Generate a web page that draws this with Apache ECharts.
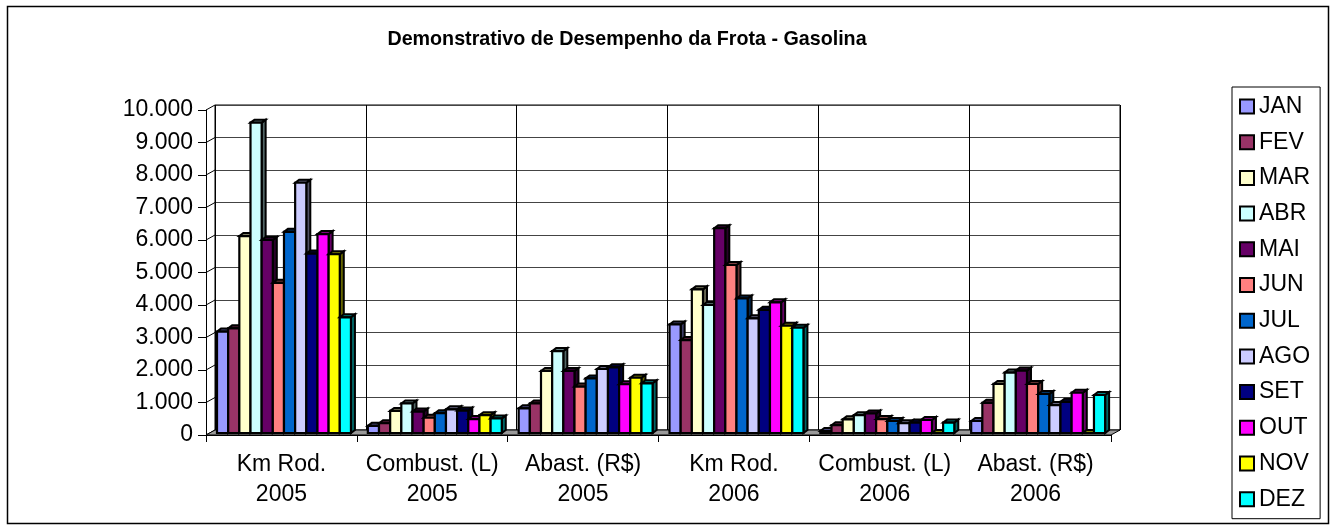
<!DOCTYPE html>
<html><head><meta charset="utf-8">
<script src="https://cdn.jsdelivr.net/npm/echarts@6/dist/echarts.min.js"></script>
<style>html,body{margin:0;padding:0;background:#fff}#c{width:1336px;height:531px}</style>
</head><body><div id="c"></div>
<script>
const titleText = 'Demonstrativo de Desempenho da Frota - Gasolina';
const categories = ['Km Rod.\n2005', 'Combust. (L)\n2005', 'Abast. (R$)\n2005', 'Km Rod.\n2006', 'Combust. (L)\n2006', 'Abast. (R$)\n2006'];
const months = ['JAN', 'FEV', 'MAR', 'ABR', 'MAI', 'JUN', 'JUL', 'AGO', 'SET', 'OUT', 'NOV', 'DEZ'];
const JAN = [3120, 220, 760, 3340, 60, 370];
const FEV = [3220, 300, 910, 2860, 240, 930];
const MAR = [6060, 680, 1910, 4420, 420, 1510];
const ABR = [9550, 910, 2520, 3940, 550, 1860];
const MAI = [5940, 660, 1910, 6300, 600, 1920];
const JUN = [4620, 470, 1430, 5170, 430, 1510];
const JUL = [6190, 610, 1680, 4140, 370, 1200];
const AGO = [7700, 730, 1970, 3530, 300, 860];
const SET = [5520, 690, 2020, 3790, 320, 960];
const OUT = [6120, 430, 1500, 4020, 400, 1240];
const NOV = [5500, 550, 1700, 3300, 0, 0];
const DEZ = [3560, 450, 1530, 3240, 320, 1170];
const seriesValues = [JAN, FEV, MAR, ABR, MAI, JUN, JUL, AGO, SET, OUT, NOV, DEZ];
const yTicks = [0, 1000, 2000, 3000, 4000, 5000, 6000, 7000, 8000, 9000, 10000];
const colors = ['#9999FF', '#993366', '#FFFFCC', '#CCFFFF', '#660066', '#FF8080', '#0066CC', '#CCCCFF', '#000080', '#FF00FF', '#FFFF00', '#00FFFF'];

const FONT = 'Liberation Sans, Arial, sans-serif';
const DX = 9, DY = -5; // depth of the 3D box
function darken(hex, f) {
  const n = parseInt(hex.slice(1), 16);
  const r = Math.round(((n >> 16) & 255) * f), g = Math.round(((n >> 8) & 255) * f), b = Math.round((n & 255) * f);
  return 'rgb(' + r + ',' + g + ',' + b + ')';
}

const chart = echarts.init(document.getElementById('c'), null, {renderer: 'canvas'});

function barRender(si) {
  return function (params, api) {
    const cat = api.value(0), val = api.value(1);
    const base = api.coord([cat, 0]);
    const top = api.coord([cat, val]);
    const band = api.size([1, 0])[0];
    const pitch = band * 0.074;
    const x0 = base[0] - band / 2 + band * 0.073 + si * pitch;
    const w = pitch;
    const by = base[1] - 2, ty = top[1] - 2;
    const dx = 4, dy = -3;
    const c = colors[si];
    return {
      type: 'group',
      children: [
        {type: 'polygon', shape: {points: [[x0 + w, ty], [x0 + w + dx, ty + dy], [x0 + w + dx, by + dy], [x0 + w, by]]},
          style: {fill: darken(c, 0.4), stroke: '#000', lineWidth: 2}},
        {type: 'polygon', shape: {points: [[x0, ty], [x0 + dx, ty + dy], [x0 + w + dx, ty + dy], [x0 + w, ty]]},
          style: {fill: darken(c, 0.5), stroke: '#000', lineWidth: 2}},
        {type: 'rect', shape: {x: x0, y: ty, width: w, height: by - ty},
          style: {fill: c, stroke: '#000', lineWidth: 2.2}}
      ]
    };
  };
}

const barSeries = months.map((m, si) => ({
  name: m,
  type: 'custom',
  xAxisIndex: 1, yAxisIndex: 1,
  z: 5,
  itemStyle: {color: colors[si]},
  renderItem: barRender(si),
  data: seriesValues[si].map((v, ci) => [ci, v])
}));

const floorSeries = {
  type: 'custom', name: 'floor', xAxisIndex: 1, yAxisIndex: 1, z: 3, silent: true,
  renderItem: function (params, api) {
    const c0 = api.coord([0, 0]);
    const band = api.size([1, 0])[0];
    const left = c0[0] - band / 2, right = left + band * categories.length;
    const y = c0[1];
    return {type: 'polygon', shape: {points: [[left, y], [right, y], [right + DX, y + DY], [left + DX, y + DY]]},
      style: {fill: '#9a9a9a', stroke: '#000', lineWidth: 1}};
  },
  data: [[0, 0]]
};

const wallSeries = {
  type: 'custom', name: 'wall', xAxisIndex: 1, yAxisIndex: 1, z: 2, silent: true,
  renderItem: function (params, api) {
    const p = api.coord([0, api.value(1)]);
    const band = api.size([1, 0])[0];
    const left = p[0] - band / 2;
    return {type: 'line', shape: {x1: left, y1: p[1], x2: left + DX, y2: p[1] + DY},
      style: {stroke: '#000', lineWidth: 1}};
  },
  data: yTicks.map(v => [0, v])
};

const option = {
  animation: false,
  backgroundColor: '#fff',
  graphic: [
    {type: 'rect', shape: {x: 7.5, y: 6.5, width: 1321, height: 517}, style: {fill: 'none', stroke: '#000', lineWidth: 1.5}, z: 0},
    {type: 'text', x: 627, y: 40, style: {text: titleText, align: 'center', verticalAlign: 'middle', font: 'bold 19.7px ' + FONT, fill: '#000'}, z: 10}
  ],
  legend: {
    orient: 'vertical', left: 1232, top: 87,
    padding: [8, 10, 8, 7],
    borderColor: '#000', borderWidth: 1,
    itemWidth: 14, itemHeight: 14, itemGap: 12.7,
    textStyle: {fontFamily: FONT, fontSize: 23, color: '#000'},
    data: months.map((m, i) => ({name: m, icon: 'rect', itemStyle: {color: colors[i], borderColor: '#000', borderWidth: 2}}))
  },
  grid: [
    {left: DX + 206, top: 110 + DY, width: 905, height: 325, show: true, borderColor: '#000', borderWidth: 1, backgroundColor: 'transparent'},
    {left: 206, top: 110, width: 905, height: 325}
  ],
  xAxis: [
    {type: 'category', gridIndex: 0, data: categories, axisLabel: {show: false}, axisTick: {show: false}, axisLine: {show: false},
      splitLine: {show: true, interval: 0, lineStyle: {color: '#000', width: 1}}},
    {type: 'category', gridIndex: 1, data: categories,
      axisLine: {show: true, lineStyle: {color: '#000', width: 1}},
      axisTick: {show: true, length: 7, interval: 0, lineStyle: {color: '#000'}},
      axisLabel: {interval: 0, margin: 15, fontFamily: FONT, fontSize: 23, lineHeight: 30, color: '#000'},
      splitLine: {show: false}}
  ],
  yAxis: [
    {type: 'value', gridIndex: 0, min: 0, max: 10000, interval: 1000, axisLabel: {show: false}, axisTick: {show: false}, axisLine: {show: false},
      splitLine: {show: true, lineStyle: {color: '#444', width: 1}}},
    {type: 'value', gridIndex: 1, min: 0, max: 10000, interval: 1000,
      axisLine: {show: true, lineStyle: {color: '#000', width: 1}},
      axisTick: {show: true, length: 8, lineStyle: {color: '#000'}},
      axisLabel: {margin: 13, fontFamily: FONT, fontSize: 23, color: '#000',
        formatter: v => v === 0 ? '0' : v.toLocaleString('de-DE')},
      splitLine: {show: false}}
  ],
  series: [wallSeries, floorSeries].concat(barSeries)
};
chart.setOption(option);
</script>
</body></html>
